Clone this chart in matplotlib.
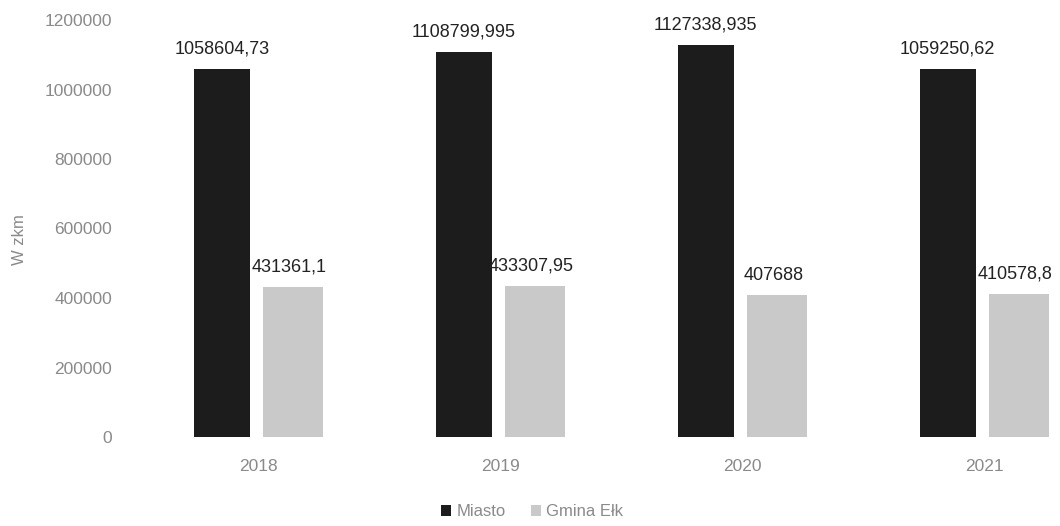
import numpy as np
import matplotlib
matplotlib.use("Agg")
from matplotlib import pyplot as plt

years = ["2018", "2019", "2020", "2021"]
miasto = [1058604.73, 1108799.995, 1127338.935, 1059250.62]
gmina = [431361.1, 433307.95, 407688, 410578.8]
miasto_lbl = ["1058604,73", "1108799,995", "1127338,935", "1059250,62"]
gmina_lbl = ["431361,1", "433307,95", "407688", "410578,8"]
yticks = [0, 200000, 400000, 600000, 800000, 1000000, 1200000]

plt.rcParams['font.family'] = ['Liberation Sans', 'DejaVu Sans']

fig = plt.figure(figsize=(10.6, 5.26), dpi=100)
ax = fig.add_axes([137/1060, 89/526, 1 - 137/1060, 417/526])

x = np.arange(len(years))
b1 = ax.bar(x - 0.15, miasto, 0.23, color="#1c1c1c", label="Miasto")
b2 = ax.bar(x + 0.145, gmina, 0.245, color="#c9c9c9", label="Gmina Ełk")

for xi, v, t in zip(x, miasto, miasto_lbl):
    ax.text(xi - 0.15, v + 33000, t, ha="center", va="bottom", fontsize=13, color="#222222")
for xi, v, t in zip(x, gmina, gmina_lbl):
    ax.text(xi + 0.13, v + 33000, t, ha="center", va="bottom", fontsize=13, color="#222222")

ax.set_xlim(-0.5, (1060 - 258) / 242)
ax.set_ylim(0, 1200000)
ax.set_yticks(yticks)
ax.set_yticklabels([str(t) for t in yticks])
ax.set_xticks(x)
ax.set_xticklabels(years)
ax.tick_params(length=0, labelsize=12.5, colors="#8a8a8a")
ax.tick_params(axis="x", pad=16)
ax.tick_params(axis="y", pad=18)
for s in ax.spines.values():
    s.set_visible(False)

fig.text(20/1060, 1 - 240/526, "W zkm", rotation=90, ha="center", va="center",
         fontsize=12, color="#8a8a8a")

fig.legend(handles=[b1, b2], loc="center", bbox_to_anchor=(532/1060, 1 - 512/526),
           ncol=2, frameon=False, fontsize=12, handlelength=0.6, handleheight=0.6,
           handletextpad=0.3, columnspacing=1.5, labelcolor="#8a8a8a")

fig.savefig("out.png", dpi=100)
